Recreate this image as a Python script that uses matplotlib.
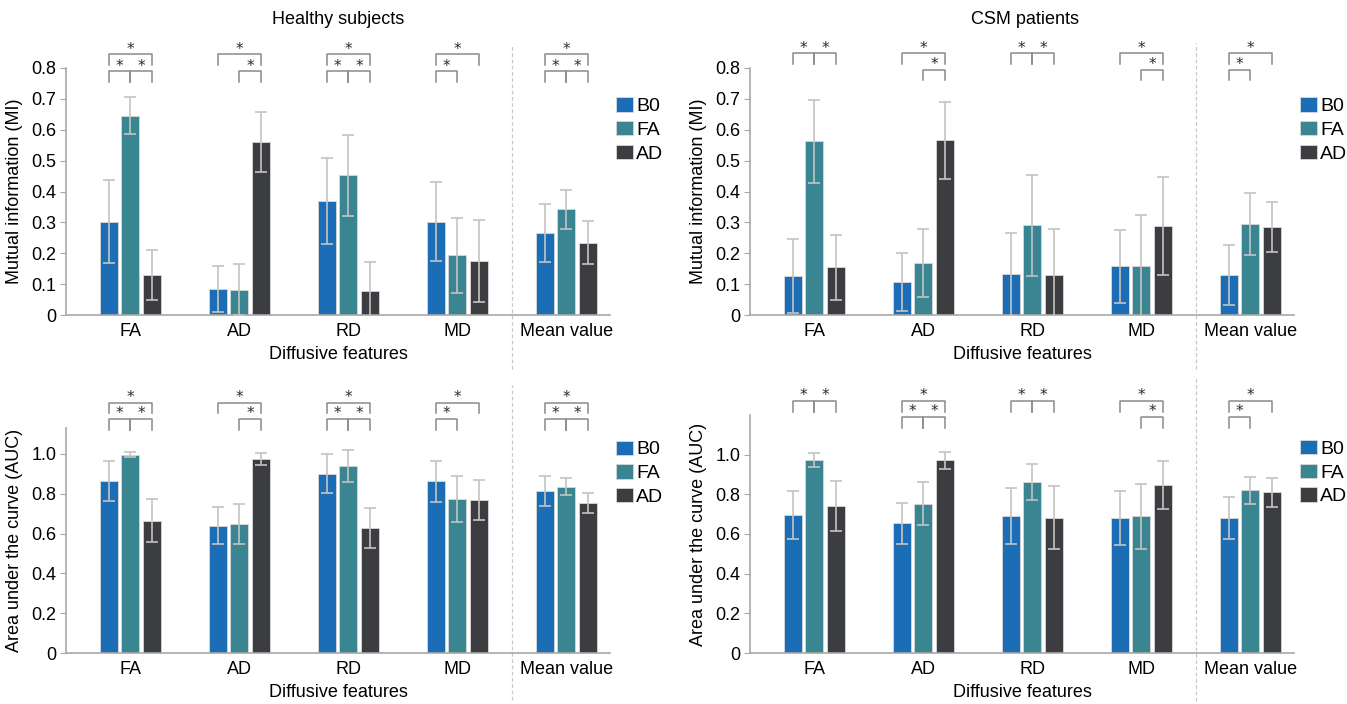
import matplotlib

matplotlib.use("Agg")
import matplotlib.pyplot as plt
import numpy as np

plt.rcParams["font.family"] = ["Liberation Sans", "DejaVu Sans"]

categories = ["FA", "AD", "RD", "MD", "Mean value"]
series = ["B0", "FA", "AD"]
colors = ["#1b6db5", "#3a8592", "#3c3d40"]

# rows: B0, FA, AD ; columns: categories
healthy_mi = [[0.302, 0.085, 0.370, 0.302, 0.265],
              [0.645, 0.082, 0.452, 0.193, 0.342],
              [0.130, 0.560, 0.078, 0.175, 0.234]]
healthy_mi_err = [[0.135, 0.075, 0.140, 0.128, 0.093],
                  [0.060, 0.083, 0.130, 0.122, 0.064],
                  [0.080, 0.097, 0.093, 0.133, 0.070]]

csm_mi = [[0.125, 0.107, 0.132, 0.158, 0.130],
          [0.562, 0.167, 0.290, 0.160, 0.295],
          [0.154, 0.566, 0.128, 0.288, 0.285]]
csm_mi_err = [[0.120, 0.093, 0.135, 0.118, 0.098],
              [0.133, 0.110, 0.163, 0.165, 0.100],
              [0.106, 0.124, 0.152, 0.158, 0.081]]

healthy_auc = [[0.865, 0.640, 0.900, 0.862, 0.812],
               [0.995, 0.647, 0.940, 0.775, 0.835],
               [0.665, 0.975, 0.626, 0.770, 0.755]]
healthy_auc_err = [[0.100, 0.095, 0.098, 0.103, 0.075],
                   [0.012, 0.100, 0.081, 0.115, 0.042],
                   [0.108, 0.030, 0.100, 0.100, 0.050]]

csm_auc = [[0.695, 0.655, 0.692, 0.680, 0.680],
           [0.975, 0.753, 0.862, 0.690, 0.820],
           [0.740, 0.972, 0.683, 0.848, 0.810]]
csm_auc_err = [[0.120, 0.103, 0.140, 0.135, 0.106],
               [0.035, 0.108, 0.092, 0.164, 0.068],
               [0.125, 0.043, 0.157, 0.120, 0.073]]

# significance brackets per category: (bar i, bar j, level) ; level 0 = upper, 1 = lower
healthy_sig = [[(0, 2, 0), (0, 1, 1), (1, 2, 1)],
               [(0, 2, 0), (1, 2, 1)],
               [(0, 2, 0), (0, 1, 1), (1, 2, 1)],
               [(0, 2, 0), (0, 1, 1)],
               [(0, 2, 0), (0, 1, 1), (1, 2, 1)]]
csm_mi_sig = [[(0, 1, 0), (1, 2, 0)],
              [(0, 2, 0), (1, 2, 1)],
              [(0, 1, 0), (1, 2, 0)],
              [(0, 2, 0), (1, 2, 1)],
              [(0, 2, 0), (0, 1, 1)]]
csm_auc_sig = [[(0, 1, 0), (1, 2, 0)],
               [(0, 2, 0), (0, 1, 1), (1, 2, 1)],
               [(0, 1, 0), (1, 2, 0)],
               [(0, 2, 0), (1, 2, 1)],
               [(0, 2, 0), (0, 1, 1)]]

BAR_W = 0.165
OFFSETS = [-0.2, 0.0, 0.2]
GRID = "#a8a8a8"


def draw_panel(ax, means, errs, sig, ylim, yticks, ylabels, ylabel, levels, leg,
               leg_y, dash_span):
    x = np.arange(1, len(categories) + 1)
    handles = []
    for k, name in enumerate(series):
        bars = ax.bar(x + OFFSETS[k], means[k], BAR_W, color=colors[k],
                      edgecolor="#d8d8d8", linewidth=0.6, label=name, zorder=2)
        ax.errorbar(x + OFFSETS[k], means[k], yerr=errs[k], fmt="none",
                    ecolor="#c4c4c4", elinewidth=1.2, capsize=4, capthick=1.2,
                    zorder=3)
        handles.append(bars)

    for c, pairs in enumerate(sig):
        for i, j, lev in pairs:
            xi = x[c] + OFFSETS[i]
            xj = x[c] + OFFSETS[j]
            h = levels[lev]
            ax.plot([xi, xi, xj, xj], [h - leg, h, h, h - leg], color="#8a8a8a",
                    linewidth=1.1, clip_on=False, zorder=4)
            ax.text((xi + xj) / 2, h - leg * 0.25, "*", ha="center", va="bottom",
                    fontsize=11, family="DejaVu Sans", color="#2a2a2a", clip_on=False)

    ax.axvline(4.5, ymin=dash_span[0], ymax=dash_span[1], color="#c8c8c8",
               linestyle=(0, (3, 2)), linewidth=0.9, clip_on=False, zorder=1)

    ax.set_xlim(0.41, 5.4)
    ax.set_ylim(*ylim)
    ax.set_yticks(yticks)
    ax.set_yticklabels(ylabels)
    ax.set_xticks(x)
    ax.set_xticklabels(categories)
    ax.tick_params(axis="x", length=0, labelsize=13, pad=6)
    ax.tick_params(axis="y", length=4, color=GRID, labelsize=13, pad=3)
    for s in ["top", "right"]:
        ax.spines[s].set_visible(False)
    for s in ["left", "bottom"]:
        ax.spines[s].set_color(GRID)
        ax.spines[s].set_linewidth(1.2)
    ax.set_xlabel("Diffusive features", fontsize=13, labelpad=4)
    ax.set_ylabel(ylabel, fontsize=13, labelpad=6)
    ax.legend(handles=handles, labels=series, loc="upper left",
              bbox_to_anchor=(1.0, leg_y), frameon=False, fontsize=14,
              handlelength=0.9, handleheight=0.75, handletextpad=0.15,
              labelspacing=0.3, borderaxespad=0.0, borderpad=0.3)


fig = plt.figure(figsize=(13.47, 7.04), dpi=100)
W, H = 1347.0, 704.0


def axes_px(left, right, top, bottom):
    return fig.add_axes([left / W, 1 - bottom / H, (right - left) / W, (bottom - top) / H])


ax1 = axes_px(66, 610, 68, 315)
ax2 = axes_px(750, 1294, 68, 315)
ax3 = axes_px(66, 610, 428, 653)
ax4 = axes_px(750, 1294, 415, 653)

mi_ticks = [0, 0.1, 0.2, 0.3, 0.4, 0.5, 0.6, 0.7, 0.8]
mi_labels = ["0", "0.1", "0.2", "0.3", "0.4", "0.5", "0.6", "0.7", "0.8"]
auc_ticks = [0, 0.2, 0.4, 0.6, 0.8, 1.0]
auc_labels = ["0", "0.2", "0.4", "0.6", "0.8", "1.0"]

draw_panel(ax1, healthy_mi, healthy_mi_err, healthy_sig, (0, 0.8), mi_ticks, mi_labels,
           "Mutual information (MI)", (0.845, 0.79), 0.035, 0.905, (-0.22, 1.095))
draw_panel(ax2, csm_mi, csm_mi_err, csm_mi_sig, (0, 0.8), mi_ticks, mi_labels,
           "Mutual information (MI)", (0.848, 0.795), 0.035, 0.905, (-0.22, 1.1))
draw_panel(ax3, healthy_auc, healthy_auc_err, healthy_sig, (0, 1.13), auc_ticks, auc_labels,
           "Area under the curve (AUC)", (1.258, 1.177), 0.055, 0.97, (-0.21, 1.19))
draw_panel(ax4, csm_auc, csm_auc_err, csm_auc_sig, (0, 1.2), auc_ticks, auc_labels,
           "Area under the curve (AUC)", (1.273, 1.192), 0.056, 0.92, (-0.2, 1.16))

fig.text(338 / W, 1 - 20 / H, "Healthy subjects", ha="center", va="center", fontsize=13)
fig.text(1025 / W, 1 - 20 / H, "CSM patients", ha="center", va="center", fontsize=13)

fig.savefig("out.png", dpi=100)
